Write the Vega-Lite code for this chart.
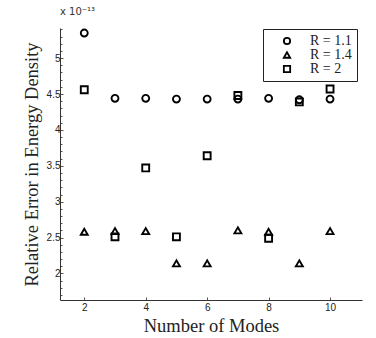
{
  "$schema": "https://vega.github.io/schema/vega-lite/v6.json",
  "autosize": "none",
  "padding": {"left": 60, "top": 28, "right": 14, "bottom": 38},
  "width": 302,
  "height": 272,
  "background": "white",
  "title": {
    "text": "x 10⁻¹³",
    "anchor": "start",
    "frame": "group",
    "font": "DejaVu Sans",
    "fontSize": 10,
    "fontWeight": "normal",
    "color": "#333333",
    "offset": 7,
    "dx": 0
  },
  "config": {
    "view": {"stroke": null},
    "axis": {
      "grid": false,
      "domainColor": "#333333",
      "domainWidth": 1,
      "tickColor": "#555555",
      "labelFont": "Liberation Sans",
      "labelFontSize": 10,
      "labelColor": "#222222",
      "titleFont": "Liberation Serif",
      "titleFontWeight": "normal",
      "titleFontSize": 18.5,
      "titleColor": "#222222"
    }
  },
  "data": {
    "values": [
      {"modes": 2, "err": 5.35, "R": "R = 1.1"},
      {"modes": 3, "err": 4.44, "R": "R = 1.1"},
      {"modes": 4, "err": 4.44, "R": "R = 1.1"},
      {"modes": 5, "err": 4.43, "R": "R = 1.1"},
      {"modes": 6, "err": 4.43, "R": "R = 1.1"},
      {"modes": 7, "err": 4.43, "R": "R = 1.1"},
      {"modes": 8, "err": 4.44, "R": "R = 1.1"},
      {"modes": 9, "err": 4.42, "R": "R = 1.1"},
      {"modes": 10, "err": 4.43, "R": "R = 1.1"},
      {"modes": 2, "err": 2.58, "R": "R = 1.4"},
      {"modes": 3, "err": 2.59, "R": "R = 1.4"},
      {"modes": 4, "err": 2.59, "R": "R = 1.4"},
      {"modes": 5, "err": 2.14, "R": "R = 1.4"},
      {"modes": 6, "err": 2.14, "R": "R = 1.4"},
      {"modes": 7, "err": 2.6, "R": "R = 1.4"},
      {"modes": 8, "err": 2.58, "R": "R = 1.4"},
      {"modes": 9, "err": 2.14, "R": "R = 1.4"},
      {"modes": 10, "err": 2.59, "R": "R = 1.4"},
      {"modes": 2, "err": 4.56, "R": "R = 2"},
      {"modes": 3, "err": 2.51, "R": "R = 2"},
      {"modes": 4, "err": 3.47, "R": "R = 2"},
      {"modes": 5, "err": 2.51, "R": "R = 2"},
      {"modes": 6, "err": 3.64, "R": "R = 2"},
      {"modes": 7, "err": 4.48, "R": "R = 2"},
      {"modes": 8, "err": 2.49, "R": "R = 2"},
      {"modes": 9, "err": 4.39, "R": "R = 2"},
      {"modes": 10, "err": 4.57, "R": "R = 2"}
    ]
  },
  "mark": {"type": "point", "filled": false, "strokeWidth": 1.9, "size": 48, "color": "black", "opacity": 1},
  "encoding": {
    "x": {
      "field": "modes",
      "type": "quantitative",
      "scale": {"domain": [1.21, 11.04], "nice": false, "zero": false},
      "axis": {
        "title": "Number of Modes",
        "values": [2, 4, 6, 8, 10],
        "tickSize": -3,
        "labelPadding": 5,
        "titlePadding": 4
      }
    },
    "y": {
      "field": "err",
      "type": "quantitative",
      "scale": {"domain": [1.63, 5.42], "nice": false, "zero": false},
      "axis": {
        "title": "Relative Error in Energy Density",
        "values": [1.7, 1.8, 1.9, 2, 2.1, 2.2, 2.3, 2.4, 2.5, 2.6, 2.7, 2.8, 2.9, 3, 3.1, 3.2, 3.3, 3.4, 3.5, 3.6, 3.7, 3.8, 3.9, 4, 4.1, 4.2, 4.3, 4.4, 4.5, 4.6, 4.7, 4.8, 4.9, 5, 5.1, 5.2, 5.3, 5.4],
        "labelExpr": "abs(datum.value*2 - round(datum.value*2)) < 0.001 ? format(datum.value, '.2~f') : ''",
        "tickSize": {"condition": {"test": "abs(datum.value*2 - round(datum.value*2)) < 0.001", "value": -3}, "value": -2},
        "labelPadding": 3,
        "labelFlush": false,
        "labelOverlap": false,
        "titlePadding": 5
      }
    },
    "shape": {
      "field": "R",
      "type": "nominal",
      "scale": {"domain": ["R = 1.1", "R = 1.4", "R = 2"], "range": ["circle", "triangle-up", "square"]},
      "legend": {
        "title": null,
        "orient": "none",
        "legendX": 203,
        "legendY": 1,
        "direction": "vertical",
        "strokeColor": "#222222",
        "fillColor": "white",
        "padding": 5,
        "symbolOffset": 12,
        "symbolStrokeWidth": 1.8,
        "symbolSize": 40,
        "symbolStrokeColor": "black",
        "symbolFillColor": "white",
        "labelFont": "Liberation Serif",
        "labelFontSize": 14,
        "labelColor": "#222222",
        "labelOffset": 16,
        "rowPadding": -2
      }
    }
  }
}
